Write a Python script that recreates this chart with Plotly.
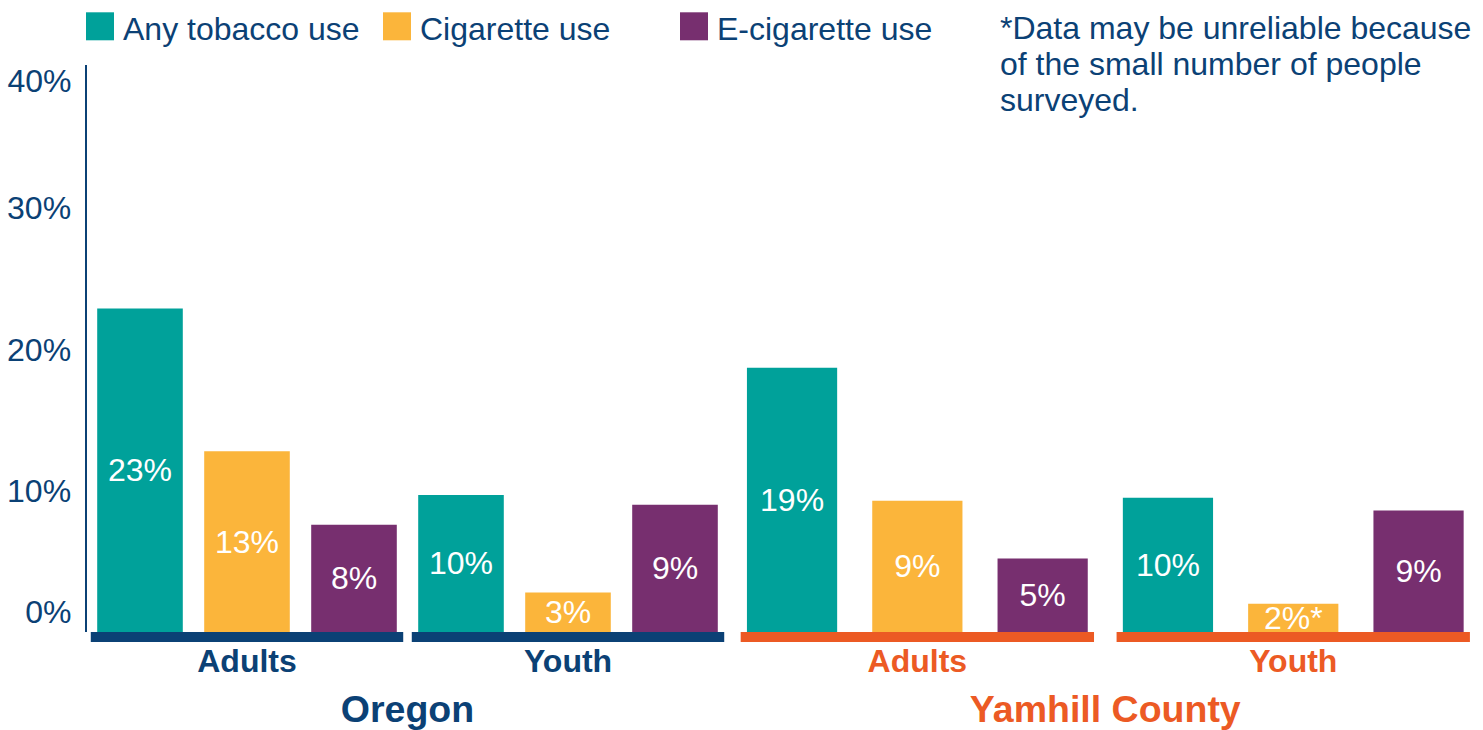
import plotly.graph_objects as go

# ---- data ----
series = ["Any tobacco use", "Cigarette use", "E-cigarette use"]
groups = ["Adults", "Youth"]
regions = ["Oregon", "Yamhill County"]

oregon_adults = [22.9, 12.8, 7.6]
oregon_youth = [9.7, 2.8, 9.0]
yamhill_adults = [18.7, 9.3, 5.2]
yamhill_youth = [9.5, 2.0, 8.6]

oregon_adults_labels = ["23%", "13%", "8%"]
oregon_youth_labels = ["10%", "3%", "9%"]
yamhill_adults_labels = ["19%", "9%", "5%"]
yamhill_youth_labels = ["10%", "2%*", "9%"]

y_ticks = [0, 10, 20, 30, 40]
y_tick_labels = ["0%", "10%", "20%", "30%", "40%"]

footnote_lines = ["*Data may be unreliable because",
                  "of the small number of people",
                  "surveyed."]

# ---- styles ----
W, H = 1483, 730
FONT = "Liberation Sans, Arial, sans-serif"
FS = 32
series_colors = ["#00A19A", "#FBB53B", "#772F6F"]
NAVY = "#0B4175"
ORANGE = "#EC5A24"
region_colors = [NAVY, ORANGE]
bar_widths = [0.80, 0.72]
underline_ext = [0.46, 0.41]
x_domains = [[86.5 / W, 728.5 / W], [729.4 / W, 1481.2 / W]]
Y_MAX = 40.14

region_values = [[oregon_adults, oregon_youth], [yamhill_adults, yamhill_youth]]
region_labels = [[oregon_adults_labels, oregon_youth_labels],
                 [yamhill_adults_labels, yamhill_youth_labels]]

fig = go.Figure()
for r in range(len(regions)):
    xa = "x" if r == 0 else "x2"
    ya = "y" if r == 0 else "y2"
    for s, name in enumerate(series):
        xs = [3 * g + s for g in range(len(groups))]
        ys = [region_values[r][g][s] for g in range(len(groups))]
        txt = [region_labels[r][g][s] for g in range(len(groups))]
        fig.add_trace(go.Bar(
            x=xs, y=ys, text=txt, name=name,
            xaxis=xa, yaxis=ya,
            width=bar_widths[r],
            marker=dict(color=series_colors[s], line=dict(width=0)),
            textposition="inside", insidetextanchor="middle",
            textangle=0, constraintext="none",
            textfont=dict(color="white", size=FS, family=FONT),
            showlegend=(r == 0), legendgroup=name,
            hoverinfo="skip",
        ))

shapes = []
for r in range(len(regions)):
    xr = "x" if r == 0 else "x2"
    for g in range(len(groups)):
        shapes.append(dict(
            type="rect", xref=xr, yref="paper",
            x0=3 * g - underline_ext[r], x1=3 * g + 2 + underline_ext[r],
            ysizemode="pixel", yanchor=0, y0=0, y1=-10,
            fillcolor=region_colors[r], line=dict(width=0), layer="above",
        ))

plot_h = H - 64 - 98
annotations = []
for i, line in enumerate(footnote_lines):
    annotations.append(dict(
        text=line, xref="paper", yref="paper",
        x=998 / W, xanchor="left",
        y=(632 - (27 + 36 * i)) / plot_h, yanchor="middle",
        showarrow=False, align="left",
        font=dict(size=FS, color=NAVY, family=FONT),
    ))


def xaxis_style(r):
    return dict(
        domain=x_domains[r], range=[-0.5, 5.5],
        showline=False, showgrid=False, zeroline=False, ticks="",
        tickvals=[3 * g + 1 for g in range(len(groups))], ticktext=groups,
        tickfont=dict(size=FS, color=region_colors[r], family=FONT, weight="bold"),
        ticklabelstandoff=7,
        title=dict(text=regions[r], standoff=19,
                   font=dict(size=37.5, color=region_colors[r], family=FONT, weight="bold")),
        automargin=False, fixedrange=True,
    )


fig.update_layout(
    template="none",
    width=W, height=H,
    margin=dict(l=0, r=0, t=64, b=98, pad=0),
    paper_bgcolor="white", plot_bgcolor="white",
    barmode="overlay",
    font=dict(family=FONT, color=NAVY),
    xaxis=xaxis_style(0),
    xaxis2=xaxis_style(1),
    yaxis=dict(
        domain=[0, 1], range=[0, Y_MAX], anchor="x",
        showline=True, linecolor=NAVY, linewidth=2,
        showgrid=False, zeroline=False, ticks="",
        tickvals=y_ticks[1:4], ticktext=y_tick_labels[1:4],
        tickfont=dict(size=FS, color=NAVY, family=FONT),
        ticklabelstandoff=7, automargin=False, fixedrange=True,
    ),
    yaxis2=dict(
        domain=[0, 1], range=[0, Y_MAX], anchor="x2", visible=False,
    ),
    yaxis3=dict(
        overlaying="y", anchor="x", side="left",
        range=[-1.504, 41.2],
        showline=False, showgrid=False, zeroline=False, ticks="",
        tickvals=[y_ticks[0], y_ticks[4]], ticktext=[y_tick_labels[0], y_tick_labels[4]],
        tickfont=dict(size=FS, color=NAVY, family=FONT),
        ticklabelstandoff=14, automargin=False, fixedrange=True,
    ),
    legend=dict(
        orientation="h", x=83 / W, xanchor="left",
        y=(632 - 26) / plot_h, yanchor="middle",
        font=dict(size=FS, color=NAVY, family=FONT),
        bgcolor="rgba(0,0,0,0)", traceorder="normal",
        entrywidth=252, entrywidthmode="pixels",
    ),
    shapes=shapes,
    annotations=annotations,
)

# invisible trace so the overlay label axis renders
fig.add_trace(go.Scatter(x=[None], y=[None], xaxis="x", yaxis="y3",
                         showlegend=False, hoverinfo="skip"))

post = (
    "document.body.style.margin='0';document.body.style.padding='0';"
    "document.querySelectorAll('.legend .legendpoints path').forEach(function(p){"
    "p.setAttribute('d','M11,13H-17V-15H11Z');});"
)
fig.write_html("out.html", config={"displayModeBar": False}, post_script=post)
